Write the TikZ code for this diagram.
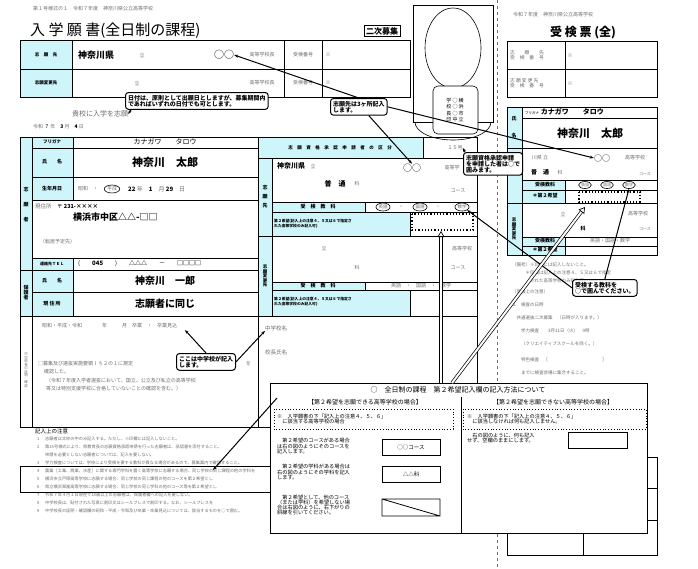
\documentclass[tikz,border=0pt]{standalone}
\usepackage{fontspec}
\setmainfont{Noto Sans CJK JP}
\usetikzlibrary{arrows.meta}
\newcommand\fs[1]{\fontsize{#1}{#1}\selectfont}
\definecolor{cyl}{RGB}{205,245,250}
\definecolor{gt}{RGB}{110,110,110}
\tikzset{
  cyf/.style={fill=cyl,draw=black,line width=0.8pt},
  fr/.style={draw=black,line width=1pt},
  ln/.style={draw=black,line width=0.6pt},
  tx/.style={inner sep=0pt,font=\fs{5}},
  gx/.style={inner sep=0pt,font=\fs{5},text=gt},
  bx/.style={inner sep=0pt,font=\fs{5}\bfseries},
  callout/.style={draw=black,line width=1pt,rounded corners=3pt,fill=white,align=left,font=\fs{6}\bfseries,inner sep=2.5pt,anchor=north west},
  ptr/.style={line width=1pt,-{Stealth[length=4pt]}},
  hollow/.style={double=white,double distance=2pt,line width=0.7pt,-{Triangle[open,length=6pt,width=7pt]}},
  ov/.style={ellipse,draw,line width=0.6pt,inner sep=0.5pt}
}
\usetikzlibrary{shapes.geometric}
\begin{document}
\begin{tikzpicture}[x=1pt,y=-1pt]
\useasboundingbox[fill=white] (0,0) rectangle (698,568);
% header
\node[gx,anchor=west] (hd) at (33,9) {第１号様式の１　令和７年度　神奈川県公立高等学校};
\node[inner sep=0pt,anchor=west,font=\fs{15}] (title) at (30,31) {入 学 願 書(全日制の課程)};
\node[draw,line width=1pt,inner sep=2pt,font=\fs{8}\bfseries] (niji) at (382,31) {二次募集};
% top table
\fill[cyl] (20,40) rectangle (72,97);
\draw[fr] (20,40) rectangle (410,97);
\draw[ln] (20,69)--(410,69) (72,40)--(72,97) (284,40)--(284,97) (322,40)--(322,97);
\node[bx,font=\fs{4.5}\bfseries] at (46,55) {志　願　先};
\node[bx,font=\fs{4.5}\bfseries] at (46,83) {志願変更先};
\node[bx,font=\fs{9}\bfseries,anchor=west] at (78,55) {神奈川県};
\node[gx] at (142,55) {立};
\node[inner sep=0pt,font=\fs{10}] (oo1) at (224,55) {○○};
\node[gx] at (262,55) {高等学校長};
\node[gx] at (303,55) {受検番号};
\node[gx] at (328,55) {※};
\node[gx] at (137,83) {立};
\node[gx] at (262,83) {高等学校長};
\node[gx] at (303,83) {受検番号};
\node[gx] at (328,83) {※};
\node[gx,font=\fs{7}] (kiko) at (100,114) {貴校に入学を志願};
\node[tx,anchor=west] (date) at (33,127) {\textcolor{gt}{令和} ７ \textcolor{gt}{年}　\textbf{3} \textcolor{gt}{月}　\textbf{4} \textcolor{gt}{日}};
% photo
\draw[ln] (413,5) rectangle (493,122);
\draw[ln] (453,48) ellipse (28 and 40);
\draw[ln] (446,87)--(446,93) (460,87)--(460,93);
\draw[ln] (415,122) arc (180:0:38 and 18);
\draw[ln,fill=white,rounded corners=5pt] (433,86) rectangle (478,134);
\node[tx,align=center,font=\fs{5}] (stamp) at (455,110) {学 ○ 横\\[1.5pt]校 ○ 浜\\[1.5pt]長 ○ 市\\[1.5pt]印 中 立};
% perforation
\draw[gt,dashed,line width=0.6pt] (497,0)--(497,568);
% main left table
\fill[cyl] (20,137) rectangle (32,316);
\fill[cyl] (32,137) rectangle (73,200) (32,258) rectangle (73,316);
\draw[fr] (20,137) rectangle (258,316);
\draw[ln] (32,137)--(32,316) (73,137)--(73,200) (73,258)--(73,316);
\draw[ln] (32,148)--(258,148) (32,177)--(258,177) (32,200)--(258,200) (32,258)--(258,258) (20,270)--(258,270) (32,292)--(258,292);
\node[bx,font=\fs{4.5}\bfseries] at (52,142) {フリガナ};
\node[bx] at (52,162) {氏　　名};
\node[bx] at (52,189) {生年月日};
\node[bx,font=\fs{4}\bfseries] at (52,264) {連絡先ＴＥＬ};
\node[bx] at (52,281) {氏　　名};
\node[bx] at (52,304) {現 住 所};
\node[bx,align=center] at (26,205) {志\\[10pt]願\\[10pt]者};
\node[bx,align=center] at (26,293) {保\\護\\者};
\node[inner sep=0pt,font=\fs{7}] at (165,142) {カナガワ　　タロウ};
\node[inner sep=0pt,font=\fs{11}\bfseries] (name1) at (165,162) {神奈川　太郎};
\node[gx] at (88,189) {昭和　・};
\node[ov,text=gt,font=\fs{5}] at (112,189) {平成};
\node[tx,anchor=west,font=\fs{6}] at (128,189) {\textbf{22} \textcolor{gt}{年}　\textbf{1}　\textcolor{gt}{月} \textbf{29}　\textcolor{gt}{日}};
\node[tx,anchor=west,font=\fs{5.5}] at (35,206) {\textcolor{gt}{現住所}　〒 \textbf{231-××××}};
\node[inner sep=0pt,anchor=west,font=\fs{9}\bfseries] at (73,217) {横浜市中区△△-□□};
\node[gx,anchor=west] at (40,242) {（転居予定先）};
\node[tx,anchor=west,font=\fs{6}] at (78,264) {(　　\textbf{045}　　)　　\textbf{△△△}　　－　　\textbf{□□□□}};
\node[inner sep=0pt,font=\fs{10}\bfseries] at (165,281) {神奈川　一郎};
\node[inner sep=0pt,font=\fs{10}\bfseries] at (165,304) {志願者に同じ};
% bottom section
\draw[fr] (20,316) rectangle (477,427);
\draw[ln] (32,316)--(32,427);
\draw[fr] (258,316)--(258,427);
\node[gx,align=center,font=\fs{3.5}] at (26,370) {中\\学\\校\\長\\の\\証\\明\\・\\確\\認};
\node[gx,anchor=west] at (42,326) {昭和・平成・令和　　　　年　　　月　卒業　・　卒業見込};
\node[gx,anchor=west] at (38,364) {□募集及び選抜実施要領Ⅰ§２の１に規定};
\node[gx,anchor=west] at (246,364) {を};
\node[gx,anchor=west] at (44,372) {確認した。};
\node[gx,anchor=west] at (46,381) {（令和７年度入学者選抜において、国立、公立及び私立の高等学校};
\node[gx,anchor=west] at (46,389) {等又は特別支援学校に合格していないことの確認を含む。）};
\node[gx,anchor=west,font=\fs{5.5}] (chu) at (265,328) {中学校名};
\node[gx,anchor=west,font=\fs{5.5}] at (265,352) {校長氏名};
% middle-right block
\fill[cyl] (258,137) rectangle (423,158) (258,158) rectangle (272,316);
\fill[cyl] (272,202) rectangle (365,212) (272,212) rectangle (410,236) (272,282) rectangle (365,290) (272,290) rectangle (410,316);
\draw[fr] (258,137) rectangle (477,316);
\draw[ln] (423,137)--(423,158) (258,158)--(477,158) (272,158)--(272,316) (258,236)--(477,236);
\draw[ln] (272,202)--(477,202) (272,212)--(477,212) (365,202)--(365,212) (410,212)--(410,236);
\draw[ln] (272,282)--(477,282) (272,290)--(477,290) (365,282)--(365,290) (410,290)--(410,316);
\node[bx,font=\fs{4.5}\bfseries] at (340,148) {志　願　資　格　承　認　申　請　者　の　区　分};
\node[gx] (g15) at (455,148) {１５号};
\node[bx,align=center] at (265,197) {志\\[4pt]願\\[4pt]先};
\node[bx,align=center,font=\fs{4.5}\bfseries] at (265,276) {志\\願\\変\\更\\先};
\node[inner sep=0pt,anchor=west,font=\fs{7}\bfseries] at (277,166) {神奈川県};
\node[gx] at (313,166) {立};
\node[inner sep=0pt,font=\fs{9}] (oo2) at (412,168) {○○};
\node[gx] at (452,168) {高等学};
\node[inner sep=0pt,font=\fs{7}\bfseries] at (335,184) {普　通};
\node[gx] at (357,184) {科};
\node[gx] at (458,191) {コース};
\node[bx] at (318,207) {受　検　教　科};
\node[ov,text=gt,font=\fs{4.5},minimum height=8pt] (e1) at (383,207) {英語};
\node[gx] at (401,207) {・};
\node[ov,text=gt,font=\fs{4.5},minimum height=8pt] (e2) at (420,207) {国語};
\node[gx] at (438,207) {・};
\node[ov,text=gt,font=\fs{4.5},minimum height=8pt] (e3) at (462,207) {数学};
\node[bx,anchor=west,align=left,font=\fs{3.8}\bfseries] at (274,224) {第２希望(記入上の注意４、５又は６で指定さ\\れた高等学校のみ記入可)};
\draw[line width=1.2pt,dotted] (412,214) rectangle (473,230);
\coordinate (dot1) at (441,231);
\node[gx] at (324,248) {立};
\node[gx] at (462,249) {高等学校};
\node[gx] at (357,268) {科};
\node[gx] at (458,268) {コース};
\node[bx] at (318,286) {受　検　教　科};
\node[gx] at (421,286) {英語　・　国語　・　数学};
\node[bx,anchor=west,align=left,font=\fs{3.8}\bfseries] at (274,302) {第２希望(記入上の注意４、５又は６で指定さ\\れた高等学校のみ記入可)};
% notes
\node[tx,anchor=west,font=\fs{5.5}] (notes) at (35,431) {記入上の注意};
\foreach \n/\yy/\t in {1/439/志願者は太枠の中のみ記入する。ただし、※印欄には記入しないこと。,
 2/447/第15号様式により、県教育長の志願資格承認申請を行った志願者は、承認書を添付すること。,
 /455/申請を必要としない志願者については、記入を要しない。,
 3/463/学力検査については、学校により受検を要する教科が異なる場合があるので、募集案内で確認すること。,
 4/471/農業［工業、商業、水産］に関する専門学科を置く高等学校に志願する場合、同じ学校の同じ課程の他の学科を,
 5/479/横浜市立戸塚高等学校に志願する場合、同じ学校の同じ課程の他のコースを第２希望とし,
 6/487/県立横浜翠嵐高等学校に志願する場合、同じ学校の同じ学科の他のコース等を第２希望とし,
 7/495/令和７年４月１日現在で18歳以上の志願者は、保護者欄への記入を要しない。,
 8/503/中学校長は、貼付された写真に割印又はシールプレスで割印する。なお、シールプレスを,
 9/511/中学校長の証明・確認欄の昭和・平成・令和及び卒業・卒業見込については、該当するものを○で囲む。}
 {\node[gx,anchor=west,font=\fs{4.2}] at (37,\yy) {\n}; \node[gx,anchor=west,font=\fs{4.2}] at (45,\yy) {\t};}
\draw[line width=1pt] (20,466) rectangle (300,492);
% right ticket
\node[gx,anchor=west,font=\fs{5}] (rh) at (513,15) {令和７年度　神奈川県公立高等学校};
\node[inner sep=0pt,font=\fs{12}\bfseries] (ticket) at (583,33) {受 検 票 (全)};
\draw[fr] (507,41) rectangle (657,97);
\draw[ln] (507,69)--(657,69) (565,41)--(565,97);
\node[gx,align=left,anchor=west,font=\fs{4.8}] at (510,55) {志　　願　　先\\受　検　番　号};
\node[gx,align=left,anchor=west,font=\fs{4.8}] at (510,83) {志 願 変 更 先\\受　検　番　号};
\node[gx] at (570,56) {※}; \node[gx] at (570,84) {※};
\fill[cyl] (507,107) rectangle (522,255) (522,180) rectangle (565,203) (522,237) rectangle (565,255);
\draw[fr] (507,107) rectangle (657,255);
\draw[ln] (522,107)--(522,255) (522,118)--(657,118) (507,148)--(657,148) (522,180)--(657,180) (522,190)--(657,190) (507,203)--(657,203) (522,237)--(657,237) (522,246)--(657,246) (565,180)--(565,203) (565,237)--(565,255);
\node[bx,align=center] at (514,127) {氏\\[12pt]名};
\node[bx,align=center,font=\fs{4.5}\bfseries] at (514,229) {志\\願\\変\\更\\先};
\node[tx,anchor=west,font=\fs{7}\bfseries] at (525,112) {\textcolor{gt}{\fs{3.5}フリガナ} カナガワ　　タロウ};
\node[inner sep=0pt,font=\fs{11}\bfseries] (name2) at (590,133) {神奈川　太郎};
\node[gx] at (540,158) {川県 立};
\node[inner sep=0pt,font=\fs{8}] (oo3) at (602,158) {○○};
\node[gx] at (635,158) {高等学校};
\node[inner sep=0pt,font=\fs{6}\bfseries] at (540,172) {普　通};
\node[gx] at (560,173) {科};
\node[gx,font=\fs{4}] at (645,174) {コース};
\node[bx] at (545,185) {受検教科};
\node[ov,text=gt,font=\fs{4},minimum height=7pt] (r1) at (585,185) {英語};
\node[ov,text=gt,font=\fs{4},minimum height=7pt] (r2) at (607,185) {国語};
\node[ov,text=gt,font=\fs{4},minimum height=7pt] (r3) at (629,185) {数学};
\node[bx] at (545,196) {＊第２希望};
\draw[line width=1.2pt,dotted] (579,192) rectangle (640,202);
\coordinate (dot2) at (585,207);
\node[gx] at (563,214) {立};
\node[gx] at (638,214) {高等学校};
\node[inner sep=0pt,font=\fs{5}\bfseries] at (583,229) {科};
\node[gx,font=\fs{4}] at (645,229) {コース};
\node[bx] at (545,241) {受検教科};
\node[gx] at (610,241) {英語・国語・数学};
\node[bx] at (545,250) {＊第２希望};
\foreach \yy/\t in {265/（備考）※印欄には記入しないこと。, 273/　　　＊印欄は記入上の注意４、５又は６で指定, 281/　　　　された高等学校のみ記入可, 292/（受検上の注意）, 305/１　検査の日時, 318/　共通選抜二次募集　（日時が入ります。）, 331/　　学力検査　　3月11日（火）　9時, 344/　　（クリエイティブスクールを除く。）, 360/　　特色検査　［　　　　　　　　　　　　］, 373/　　までに検査会場に集合すること。}
 {\node[gx,anchor=west,font=\fs{4.5}] at (512,\yy) {\t};}
\draw[ln] (507,457) rectangle (657,555);
\draw[ln] (507,520)--(657,520) (583,520)--(583,555) (645,457)--(645,520) (645,488)--(657,488);
% overlay
\draw[line width=1pt,fill=white] (270,383) rectangle (647,533);
\draw[line width=0.8pt] (461,397)--(461,533);
\node[inner sep=0pt,font=\fs{7}] (ovt) at (458,390) {○　全日制の課程　第２希望記入欄の記入方法について};
\node[inner sep=0pt,font=\fs{6}] at (365,402) {【第２希望を志願できる高等学校の場合】};
\node[inner sep=0pt,font=\fs{6}] at (553,402) {【第２希望を志願できない高等学校の場合】};
\draw[dotted,line width=0.8pt] (274,409) rectangle (453,429);
\draw[dotted,line width=0.8pt] (463,409) rectangle (646,429);
\node[tx,anchor=west,align=left,font=\fs{5.2}] at (277,419) {※　入学願書の下「記入上の注意４、５、６」\\　に該当する高等学校の場合};
\node[tx,anchor=west,align=left,font=\fs{5.2}] at (467,419) {※　入学願書の下「記入上の注意４、５、６」\\　に該当しなければ何も記入しません。};
\node[tx,anchor=west,align=left,font=\fs{5.2}] at (277,446) {　第２希望のコースがある場合\\は右の図のようにそのコースを\\記入します。};
\node[tx,anchor=west,align=left,font=\fs{5.2}] at (277,472) {　第２希望の学科がある場合は\\右の図のようにその学科を記入\\します。};
\node[tx,anchor=west,align=left,font=\fs{5.2}] at (277,505) {　第２希望として、他のコース\\（または学科）を希望しない場\\合は右図のように、右下がりの\\斜線を引いてください。};
\node[draw,line width=0.8pt,minimum width=58pt,minimum height=16pt,font=\fs{5.5}] (bc) at (411,447) {○○コース};
\node[draw,line width=0.8pt,minimum width=58pt,minimum height=16pt,font=\fs{5.5}] (bk) at (411,474) {△△科};
\draw[line width=0.8pt] (382,499) rectangle (440,516) (382,499)--(440,516);
\node[tx,anchor=west,align=left,font=\fs{5.2}] at (467,438) {　右の図のように、何も記入\\せず、空欄のままにします。};
\draw[line width=0.8pt] (568,432) rectangle (627,448);
% callouts
\node[callout] (c1) at (125,92) {日付は、原則として出願日としますが、募集期間内\\であればいずれの日付でも可とします。};
\node[callout] (c2) at (330,98) {志願先は3ヶ所記入\\します。};
\node[callout] (c3) at (463,152) {志願資格承認申請\\を申請した者は○で\\囲みます。};
\node[callout] (c4) at (572,279) {受検する教科を\\○で囲んでください。};
\node[callout] (c5) at (176,353) {ここは中学校が記入\\します。};
% connectors
\draw[ptr] (c1.south west)++(6,0) -- (kiko.east);
\draw[ptr] (c2.north) -- (oo1.east);
\draw[ptr] (c2.south)++(10,0) -- (oo2.north);
\draw[ptr] (c2.east) -- (oo3.west);
\draw[ptr] (c3.north west)++(2,0) -- (g15.east);
\draw[ptr] (c4.north) -- (r3.south);
\draw[ptr] (c4.west) -- (e3.south east);
\draw[ptr] (c5.north) -- (185,330);
\draw[ptr] (c5.east) -- (chu.south west);
\draw[ptr] (277,398) -- (213,470);
\draw[hollow] (441,383) -- (dot1);
\draw[hollow] (452,383) -- (dot2);
\end{tikzpicture}
\end{document}
